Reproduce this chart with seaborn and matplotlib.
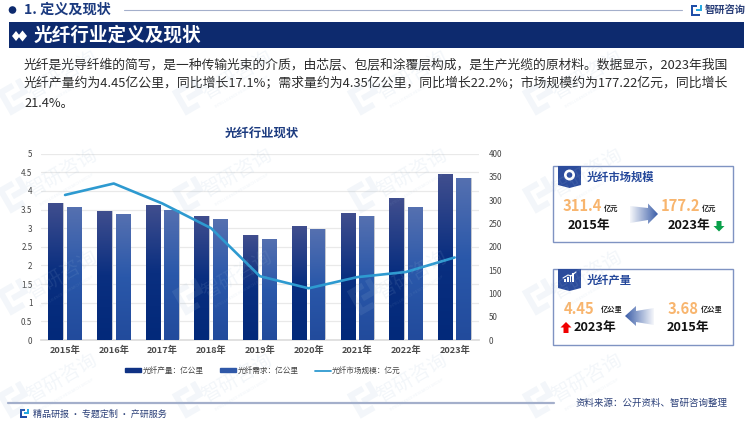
import numpy as np
import pandas as pd
import matplotlib
matplotlib.use("Agg")
import matplotlib.pyplot as plt
from matplotlib.colors import to_rgb, LinearSegmentedColormap
from matplotlib.patches import Polygon, Rectangle, Circle
from matplotlib.lines import Line2D
from matplotlib.patches import Patch
from matplotlib import transforms
import seaborn as sns

years = ["2015年", "2016年", "2017年", "2018年", "2019年", "2020年", "2021年", "2022年", "2023年"]
production = [3.68, 3.47, 3.61, 3.34, 2.81, 3.05, 3.40, 3.80, 4.45]
demand = [3.56, 3.37, 3.50, 3.24, 2.72, 2.97, 3.32, 3.56, 4.35]
market = [311.4, 336, 293, 240, 137, 111, 135, 146, 177.2]
left_ticks = [0, 0.5, 1, 1.5, 2, 2.5, 3, 3.5, 4, 4.5, 5]
left_labels = ["0", "0.5", "1", "1.5", "2", "2.5", "3", "3.5", "4", "4.5", "5"]
right_ticks = [0, 50, 100, 150, 200, 250, 300, 350, 400]
series_names = ["光纤产量：亿公里", "光纤需求：亿公里", "光纤市场规模：亿元"]
intro = ["光纤是光导纤维的简写，是一种传输光束的介质，由芯层、包层和涂覆层构成，是生产光缆的原材料。数据显示，2023年我国",
         "光纤产量约为4.45亿公里，同比增长17.1%；需求量约为4.35亿公里，同比增长22.2%；市场规模约为177.22亿元，同比增长",
         "21.4%。"]

sns.set_theme(style="white")
plt.rcParams["font.family"] = ["Noto Sans CJK SC", "DejaVu Sans"]

W, H = 750, 422
NAVY = "#0d2a6e"
TITLE = "#1b3a7f"
ORANGE = "#f8b56e"
TICK = "#454545"

fig = plt.figure(figsize=(7.5, 4.22), dpi=100, facecolor="white")
L, R, T_, B = 40.7, 479, 153.7, 340
ax = fig.add_axes([L / W, 1 - B / H, (R - L) / W, (B - T_) / H])

df = pd.DataFrame({"年份": years * 2,
                   "值": production + demand,
                   "系列": [series_names[0]] * 9 + [series_names[1]] * 9})
sns.barplot(data=df, x="年份", y="值", hue="系列", width=0.76, gap=0.19,
            palette=["#0a2f80", "#2a55a8"], legend=False, ax=ax, errorbar=None)

stops = [[(0, "#02297a"), (0.5, "#0a2f80"), (1, "#404e8e")],
         [(0, "#224b9c"), (0.5, "#2a58aa"), (1, "#5570b0")]]
for cont, st in zip(ax.containers, stops):
    cmap = LinearSegmentedColormap.from_list("g", st)
    grad = np.linspace(1, 0, 100).reshape(-1, 1)
    for p in cont.patches:
        x0, w, h = p.get_x(), p.get_width(), p.get_height()
        p.set_edgecolor("none")
        im = ax.imshow(grad, cmap=cmap, extent=[x0, x0 + w, 0, h], aspect="auto", zorder=3, vmin=0, vmax=1)
        im.set_clip_path(p)
        ax.add_patch(Rectangle((x0 + w, 0), 0.012, h, color="#c4c8d0", zorder=2.5, lw=0))

ax.set_xlim(-0.5, 8.5)
ax.set_ylim(0, 5)
ax.set_yticks(left_ticks)
ax.set_yticklabels(left_labels)
ax.set_xlabel("")
ax.set_ylabel("")
ax.grid(axis="y", color="#e9e9e9", lw=0.9)
ax.grid(axis="x", visible=False)
ax.set_axisbelow(True)
for s in ax.spines.values():
    s.set_visible(False)
ax.spines["bottom"].set_visible(True)
ax.spines["bottom"].set_color("#dddddd")
ax.tick_params(axis="y", length=0, labelsize=5.8, labelcolor=TICK, pad=6)
ax.tick_params(axis="x", length=0, labelsize=6.6, labelcolor="#4a4a4a", pad=4)
for lab in ax.get_xticklabels():
    lab.set_fontweight("bold")

ax2 = ax.twinx()
sns.lineplot(x=np.arange(len(years)), y=market, color="#2e9ad0", lw=1.9, ax=ax2, errorbar=None, sort=False)
ax2.set_ylim(0, 400)
ax2.set_yticks(right_ticks)
ax2.set_ylabel("")
ax2.grid(False)
for s in ax2.spines.values():
    s.set_visible(False)
ax2.tick_params(axis="y", length=0, labelsize=5.8, labelcolor=TICK, pad=7)

handles = [Patch(color="#0f3284"), Patch(color="#2f58a8"), Line2D([0], [0], color="#2e9ad0", lw=1.3)]
fig.legend(handles, series_names, ncol=3, frameon=False, fontsize=5.5, labelcolor="#444444",
           loc="center", bbox_to_anchor=(263 / W, 1 - 371 / H), handlelength=2.1, handleheight=0.5,
           handletextpad=0.2, columnspacing=2.1)

ov = fig.add_axes([0, 0, 1, 1], facecolor="none", zorder=5)
ov.set_xlim(0, W)
ov.set_ylim(H, 0)
ov.axis("off")


def T(x, y, s, size, color="#222222", weight="normal", ha="left", **kw):
    ov.text(x, y, s, fontsize=size, color=color, fontweight=weight, ha=ha, va="center", **kw)


def logo(x, y, size=10, c1="#1f4ea8", c2="#27a9e1"):
    ov.add_patch(Rectangle((x, y), size * 0.55, size * 0.2, color=c1, lw=0))
    ov.add_patch(Rectangle((x, y), size * 0.2, size, color=c1, lw=0))
    ov.add_patch(Rectangle((x + size * 0.45, y + size * 0.35), size * 0.55, size * 0.2, color=c2, lw=0))
    ov.add_patch(Rectangle((x + size * 0.8, y), size * 0.2, size * 0.55, color=c2, lw=0))
    ov.add_patch(Rectangle((x, y + size * 0.8), size * 0.8, size * 0.2, color=c1, lw=0))


def arrow_grad(xs, y0, y1, pts, reverse=False):
    g = np.zeros((1, 100, 4))
    g[..., :3] = to_rgb("#3a5da8")
    a = np.linspace(0.05, 1, 100)
    g[..., 3] = a[::-1] if reverse else a
    im = ov.imshow(g, extent=[xs[0], xs[1], y1, y0], aspect="auto", zorder=6)
    poly = Polygon(pts, transform=ov.transData, fc="none", ec="none")
    ov.add_patch(poly)
    im.set_clip_path(poly)


# header
ov.add_patch(Circle((12.5, 10), 3.8, color=NAVY, lw=0))
T(24, 10, "1. 定义及现状", 10.2, color=TITLE, weight="bold")
ov.plot([124, 682], [9.5, 9.5], color="#a4afcb", lw=0.8)
logo(691, 5, 11)
T(705, 10, "智研咨询", 7.4, color="#2a3f78", weight="bold")
ov.add_patch(Rectangle((8.5, 22), 735.5, 26, color=NAVY, lw=0))
ov.add_patch(Polygon([(12, 36), (16, 31), (20, 36), (16, 41)], color="white", lw=0))
ov.add_patch(Polygon([(18, 36), (22.5, 30.5), (27, 36), (22.5, 41.5)], color="white", lw=0))
T(34, 35.5, "光纤行业定义及现状", 13.4, color="white", weight="bold")

for yy, line, fs in zip([64.5, 84, 103], intro, [9.22, 9.28, 9.22]):
    T(24, yy, line, fs, color="#2b2b2b")

T(261.5, 133, "光纤行业现状", 8.9, color=TITLE, weight="bold", ha="center")


# panels
def panel(y0, y1, title):
    ov.add_patch(Rectangle((553, y0), 180, y1 - y0, fc="white", ec="#7f93c2", lw=1.0, zorder=1))
    ov.add_patch(Polygon([(558, y0), (581, y0), (581, y0 + 19), (569.5, y0 + 22), (558, y0 + 19)],
                         color="#2c4c9c", lw=0, zorder=2))
    T(587, y0 + 11, title, 8.1, color="#24479a", weight="bold")


YEAR_FS = 9.2
panel(166, 242, "光纤市场规模")
ov.add_patch(Circle((569.5, 175), 5.5, fc="white", ec="none", zorder=3))
ov.add_patch(Circle((569.5, 175), 2.8, fc="#2c4c9c", ec="none", zorder=4))
T(563, 206, "311.4", 10.6, color=ORANGE, weight="bold")
T(604, 208, "亿元", 5.2, weight="bold")
T(568, 225, "2015年", YEAR_FS, color="#111111", weight="bold")
arrow_grad((630, 658), 203, 224, [(630, 206), (648, 208), (648, 203.5), (658, 214), (648, 224), (648, 220), (630, 223)])
T(661, 206, "177.2", 10.6, color=ORANGE, weight="bold")
T(702, 208, "亿元", 5.2, weight="bold")
T(668, 225, "2023年", YEAR_FS, color="#111111", weight="bold")
ov.add_patch(Polygon([(716.5, 221), (721.5, 221), (721.5, 226), (724.5, 226), (719, 231.5), (713.5, 226), (716.5, 226)],
                     color="#0aa04a", lw=0))

panel(269, 345, "光纤产量")
for i, hh in enumerate([3, 5, 7, 9]):
    ov.add_patch(Rectangle((564 + i * 2.8, 282 - hh), 1.8, hh, color="white", lw=0, zorder=3))
ov.plot([563, 568, 571, 576], [278, 275, 276, 272], color="white", lw=0.8, zorder=3)
T(564, 309, "4.45", 10.6, color=ORANGE, weight="bold")
T(601, 309, "亿公里", 5.2, weight="bold")
T(668, 309, "3.68", 10.6, color=ORANGE, weight="bold")
T(701, 309, "亿公里", 5.2, weight="bold")
arrow_grad((625, 654), 306, 326, [(654, 308), (636, 311), (636, 306), (625, 316), (636, 326), (636, 322), (654, 325)], reverse=True)
ov.add_patch(Polygon([(566, 322), (571.5, 327.5), (568.5, 327.5), (568.5, 333), (563.5, 333), (563.5, 327.5), (560.5, 327.5)],
                     color="#f00000", lw=0))
T(574, 328, "2023年", YEAR_FS, color="#111111", weight="bold")
T(667, 328, "2015年", YEAR_FS, color="#111111", weight="bold")

# footer
ov.plot([8, 554], [403, 403], color="#a4afcb", lw=1.6)
T(575, 403, "资料来源：公开资料、智研咨询整理", 6.8, color="#2a3f78")
logo(20, 409, 9)
T(33, 414, "精品研报 · 专题定制 · 产研服务", 6.5, color="#2a3f78")

# faint watermark over the whole page
WM = "#9dbad6"
for wy in [75, 173, 275, 378]:
    for i in range(4):
        wx = 67 + 175 * i - 5
        T(wx, wy, "智研咨询", 14, color=WM, ha="center", rotation=30, rotation_mode="anchor", alpha=0.12, zorder=8)
        T(wx + 5, wy + 17, "INTELLIGENCE RESEARCH GROUP", 2.8, color=WM, ha="center", rotation=30,
          rotation_mode="anchor", alpha=0.16, zorder=8)
        tr = transforms.Affine2D().rotate_deg_around(wx - 47, wy + 22, -30) + ov.transData
        lx, ly = wx - 60, wy + 8
        ov.add_patch(Polygon([(lx, ly), (lx + 17, ly), (lx + 17, ly + 6), (lx + 6, ly + 6), (lx + 6, ly + 22),
                              (lx + 17, ly + 22), (lx + 17, ly + 28), (lx, ly + 28)],
                             color=WM, alpha=0.12, lw=0, transform=tr, zorder=8))
        ov.add_patch(Polygon([(lx + 21, ly), (lx + 27, ly), (lx + 27, ly + 17), (lx + 10, ly + 17), (lx + 10, ly + 11),
                              (lx + 21, ly + 11)],
                             color=WM, alpha=0.12, lw=0, transform=tr, zorder=8))

ov.set_xlim(0, W)
ov.set_ylim(H, 0)
fig.savefig("out.png", dpi=100)
